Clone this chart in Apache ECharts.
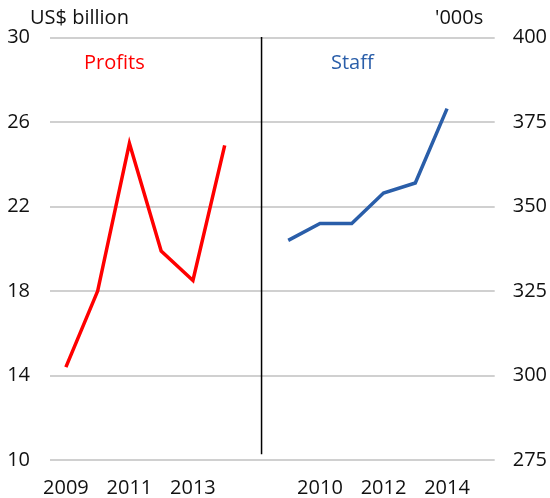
<!DOCTYPE html>
<html>
<head>
<meta charset="utf-8">
<script src="https://cdn.jsdelivr.net/npm/echarts@6/dist/echarts.min.js"></script>
<style>
  html, body { margin: 0; padding: 0; background: #fff; }
  #chart { width: 550px; height: 498px; }
</style>
</head>
<body>
<div id="chart"></div>
<script>
// Two panels share one category axis: profits 2009-2014, a spacer, staff 2009-2014, a spacer.
const years = ['2009', '2010', '2011', '2012', '2013', '2014'];
const profits = [14.4, 18.0, 25.0, 19.9, 18.5, 24.9];      // US$ billion
const staff = [340, 345, 345, 354, 357, 379];              // '000s
const profitTicks = { min: 10, max: 30, step: 4 };
const staffTicks = { min: 275, max: 400, step: 25 };

// Position of the panel divider in band units, and its vertical extent in profit units
const dividerAt = 6.66;
const dividerSpan = [30.06, 10.27];

const categories = [...years, '', ...years, ''];
const blank = n => Array(n).fill(null);
const profitData = [...profits, ...blank(8)];
const staffData = [...blank(7), ...staff, null];

const FONT = 'Open Sans';
const textStyle = { fontFamily: FONT, fontSize: 20, color: '#111' };
const titleBase = { padding: 0 };

const chart = echarts.init(document.getElementById('chart'), null, { renderer: 'canvas' });
chart.setOption({
  animation: false,
  backgroundColor: '#fff',
  textStyle: { fontFamily: FONT },
  title: [
    { ...titleBase, text: 'US$ billion', left: 30, top: 8, textStyle: { ...textStyle, fontWeight: 'normal' } },
    { ...titleBase, text: "'000s", left: 435, top: 8, textStyle: { ...textStyle, fontWeight: 'normal' } },
    { ...titleBase, text: 'Profits', left: 84, top: 53, textStyle: { ...textStyle, fontWeight: 'normal', color: '#ff0000' } },
    { ...titleBase, text: 'Staff', left: 331, top: 53, textStyle: { ...textStyle, fontWeight: 'normal', color: '#2a5ea9' } }
  ],
  grid: { left: 50, right: 55, top: 37.7, bottom: 37.3, containLabel: false },
  xAxis: [
    {
      type: 'category',
      data: categories,
      boundaryGap: true,
      axisLine: { show: false },
      axisTick: { show: false },
      axisLabel: { interval: 1, margin: 18, ...textStyle },
      splitLine: { show: false }
    },
    {
      type: 'value',
      min: 0,
      max: categories.length,
      show: false
    }
  ],
  yAxis: [
    {
      type: 'value',
      position: 'left',
      min: profitTicks.min,
      max: profitTicks.max,
      interval: profitTicks.step,
      axisLine: { show: false },
      axisTick: { show: false },
      axisLabel: { margin: 20, ...textStyle },
      splitLine: { show: true, lineStyle: { color: '#c0c0c0', width: 1.6 } }
    },
    {
      type: 'value',
      position: 'right',
      min: staffTicks.min,
      max: staffTicks.max,
      interval: staffTicks.step,
      axisLine: { show: false },
      axisTick: { show: false },
      axisLabel: { margin: 18, ...textStyle },
      splitLine: { show: false }
    }
  ],
  series: [
    {
      name: 'Profits',
      type: 'line',
      xAxisIndex: 0,
      yAxisIndex: 0,
      data: profitData,
      symbol: 'none',
      connectNulls: false,
      lineStyle: { color: '#ff0000', width: 3.5, join: 'miter' }
    },
    {
      name: 'Staff',
      type: 'line',
      xAxisIndex: 0,
      yAxisIndex: 1,
      data: staffData,
      symbol: 'none',
      connectNulls: false,
      lineStyle: { color: '#2a5ea9', width: 3.5, join: 'miter' }
    },
    {
      name: 'divider',
      type: 'line',
      xAxisIndex: 1,
      yAxisIndex: 0,
      data: dividerSpan.map(v => [dividerAt, v]),
      symbol: 'none',
      silent: true,
      lineStyle: { color: '#000', width: 1.5 }
    }
  ]
});
</script>
</body>
</html>
